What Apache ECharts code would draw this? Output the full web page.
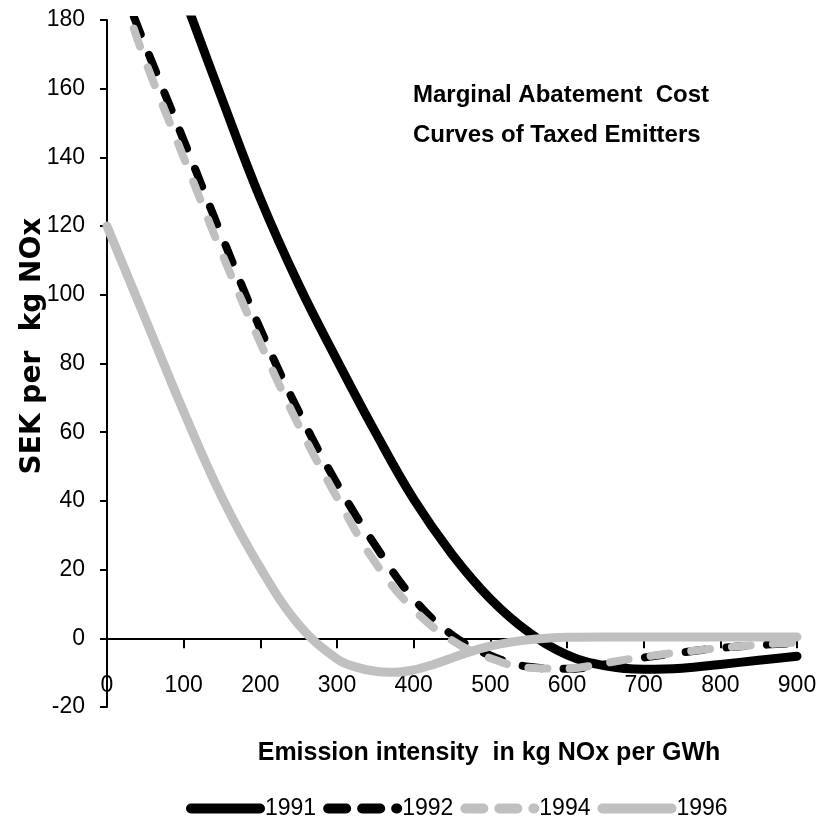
<!DOCTYPE html>
<html>
<head>
<meta charset="utf-8">
<script src="https://cdn.jsdelivr.net/npm/echarts@6/dist/echarts.min.js"></script>
<style>
html,body{margin:0;padding:0;background:#fff;}
#chart{width:825px;height:823px;}
</style>
</head>
<body>
<div id="chart"></div>
<script>
// ---- data ----
const seriesNames = ['1991', '1992', '1994', '1996'];
const mac1991 = [[100,187],[150,157],[200,128],[250,103],[300,81],[350,60],[400,40.5],[450,24.5],[500,11.5],[550,1.8],[600,-4.8],[650,-8],[700,-9],[750,-8.7],[800,-7.6],[850,-6.4],[900,-5.2]];
const mac1992 = [[35,181],[50,172.5],[100,145],[150,117],[200,90],[250,66],[300,45],[350,27],[400,11.5],[450,1.0],[500,-5],[550,-8.3],[600,-8.9],[650,-7.6],[700,-5.6],[750,-4.1],[800,-2.8],[850,-2],[900,-1.3]];
const mac1994 = [[35,177.5],[50,168],[100,140],[150,112],[200,86],[250,62],[300,41],[350,22],[400,8.4],[450,-0.6],[500,-5.8],[550,-8.6],[600,-8.8],[650,-7.2],[700,-5.4],[750,-4],[800,-2.8],[850,-1.9],[900,-1.2]];
const mac1996 = [[0,120],[50,93],[100,66],[150,41],[200,20.5],[250,4],[300,-6],[325,-8.4],[350,-9.6],[375,-9.9],[400,-9.2],[425,-7.7],[450,-5.7],[475,-3.8],[500,-2.3],[525,-1.2],[550,-0.4],[600,0.3],[650,0.4],[700,0.4],[800,0.4],[900,0.4]];
const xMin = 0, xMax = 900, xStep = 100;
const yMin = -20, yMax = 180, yStep = 20;
const titleText = 'Marginal Abatement  Cost\nCurves of Taxed Emitters';
const xTitle = 'Emission intensity  in kg NOx per GWh';
const yTitle = 'SEK per  kg NOx';

const BLACK = '#000000', GREY = '#c0c0c0';
const SANS = '"Liberation Sans", Arial, sans-serif';
const chartDash = [19, 22];
const legendDash = [18, 16];

const chart = echarts.init(document.getElementById('chart'), null, {renderer: 'canvas'});

function lineSeries(name, data, color, width, dashed) {
  return {
    name: name, type: 'line', data: data, smooth: 0.4,
    showSymbol: false, symbol: 'none', clip: true,
    lineStyle: {color: color, width: width, type: dashed ? chartDash : 'solid', cap: 'round', join: 'round'},
    itemStyle: {color: color},
    emphasis: {disabled: true}
  };
}

chart.setOption({
  animation: false,
  backgroundColor: '#fff',
  grid: {left: 107, right: 28, top: 20, bottom: 116, containLabel: false},
  title: {
    text: titleText, left: 413, top: 75, padding: 0,
    textStyle: {fontFamily: SANS, fontWeight: 'bold', fontSize: 24, lineHeight: 40, color: BLACK}
  },
  legend: {
    left: 181, top: 792, orient: 'horizontal', itemWidth: 69, itemHeight: 10, itemGap: 7,
    textStyle: {fontFamily: SANS, fontSize: 23, color: BLACK},
    data: [
      {name: seriesNames[0], lineStyle: {color: BLACK, width: 10, type: 'solid', cap: 'round'}},
      {name: seriesNames[1], lineStyle: {color: BLACK, width: 10, type: legendDash, cap: 'round'}},
      {name: seriesNames[2], lineStyle: {color: GREY, width: 10, type: legendDash, cap: 'round'}},
      {name: seriesNames[3], lineStyle: {color: GREY, width: 10, type: 'solid', cap: 'round'}}
    ]
  },
  xAxis: {
    type: 'value', min: xMin, max: xMax, interval: xStep,
    axisLine: {onZero: true, lineStyle: {color: BLACK, width: 2}},
    axisTick: {show: true, length: 10, lineStyle: {color: BLACK, width: 2}},
    axisLabel: {margin: -33, fontFamily: SANS, fontSize: 23, color: BLACK, showMinLabel: true, showMaxLabel: true},
    splitLine: {show: false}
  },
  yAxis: {
    type: 'value', min: yMin, max: yMax, interval: yStep,
    axisLine: {show: true, onZero: false, lineStyle: {color: BLACK, width: 2}},
    axisTick: {show: true, length: 7, lineStyle: {color: BLACK, width: 2}},
    axisLabel: {margin: 22, fontFamily: SANS, fontSize: 23, color: BLACK},
    splitLine: {show: false}
  },
  graphic: [
    {type: 'text', x: 489, y: 753,
     style: {text: xTitle, textAlign: 'center', textVerticalAlign: 'middle',
             font: 'bold 25px "Liberation Sans", Arial, sans-serif', fill: BLACK}},
    {type: 'text', x: 33, y: 346, rotation: Math.PI / 2,
     style: {text: yTitle, textAlign: 'center', textVerticalAlign: 'middle',
             font: 'bold 28px "DejaVu Sans", sans-serif', fill: BLACK}}
  ],
  series: [
    lineSeries(seriesNames[0], mac1991, BLACK, 9, false),
    lineSeries(seriesNames[1], mac1992, BLACK, 8, true),
    lineSeries(seriesNames[2], mac1994, GREY, 8, true),
    lineSeries(seriesNames[3], mac1996, GREY, 9, false)
  ]
});
</script>
</body>
</html>
